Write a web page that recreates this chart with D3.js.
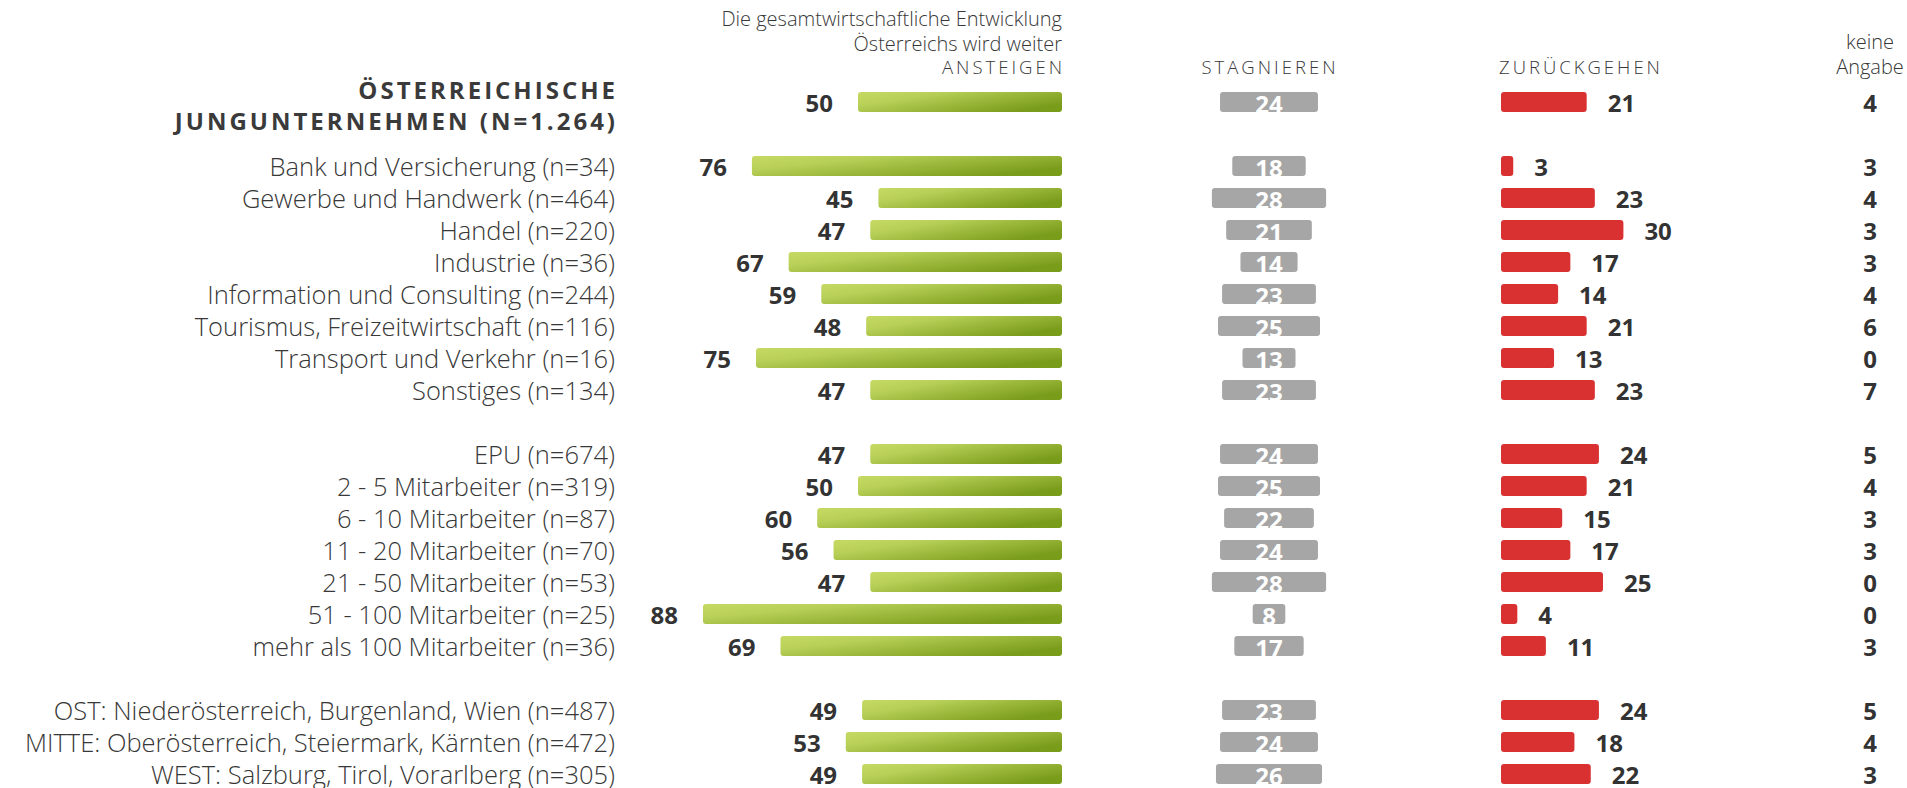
<!DOCTYPE html>
<html>
<head>
<meta charset="utf-8">
<script src="https://cdn.jsdelivr.net/npm/d3@7"></script>
<style>
  body { margin: 0; background: #fff; }
  svg { display: block; font-family: "Open Sans", "Noto Sans", sans-serif; }
  .lbl { font-size: 25.5px; font-weight: 300; fill: #383838; }
  .num { font-size: 24px; font-weight: 700; fill: #333; }
  .num-in { font-size: 24px; font-weight: 700; fill: #fff; }
  .head { font-size: 20px; font-weight: 300; fill: #383838; }
  .head-k { font-size: 20px; font-weight: 300; fill: #383838; }
  .caps { font-size: 18.5px; font-weight: 300; fill: #383838; letter-spacing: 3px; }
  .title { font-size: 24px; font-weight: 700; fill: #3a3a3a; letter-spacing: 3px; }
</style>
</head>
<body>
<div id="chart"></div>
<script>
// Zeilen: "" = Leerzeile zwischen den Gruppen
var categories = [
  "ÖSTERREICHISCHE JUNGUNTERNEHMEN (N=1.264)", "",
  "Bank und Versicherung (n=34)", "Gewerbe und Handwerk (n=464)", "Handel (n=220)",
  "Industrie (n=36)", "Information und Consulting (n=244)",
  "Tourismus, Freizeitwirtschaft (n=116)", "Transport und Verkehr (n=16)",
  "Sonstiges (n=134)", "",
  "EPU (n=674)", "2 - 5 Mitarbeiter (n=319)", "6 - 10 Mitarbeiter (n=87)",
  "11 - 20 Mitarbeiter (n=70)", "21 - 50 Mitarbeiter (n=53)",
  "51 - 100 Mitarbeiter (n=25)", "mehr als 100 Mitarbeiter (n=36)", "",
  "OST: Niederösterreich, Burgenland, Wien (n=487)",
  "MITTE: Oberösterreich, Steiermark, Kärnten (n=472)",
  "WEST: Salzburg, Tirol, Vorarlberg (n=305)"
];
var ansteigen  = [50, null, 76, 45, 47, 67, 59, 48, 75, 47, null, 47, 50, 60, 56, 47, 88, 69, null, 49, 53, 49];
var stagnieren = [24, null, 18, 28, 21, 14, 23, 25, 13, 23, null, 24, 25, 22, 24, 28, 8, 17, null, 23, 24, 26];
var zurueck    = [21, null, 3, 23, 30, 17, 14, 21, 13, 23, null, 24, 21, 15, 17, 25, 4, 11, null, 24, 18, 22];
var keineAngabe = [4, null, 3, 4, 3, 3, 4, 6, 0, 7, null, 5, 4, 3, 3, 0, 0, 3, null, 5, 4, 3];

var titleLines = ["ÖSTERREICHISCHE", "JUNGUNTERNEHMEN (N=1.264)"];
var headAnsteigen = ["Die gesamtwirtschaftliche Entwicklung", "Österreichs wird weiter", "ANSTEIGEN"];
var headStagnieren = "STAGNIEREN";
var headZurueck = "ZURÜCKGEHEN";
var headKeine = ["keine", "Angabe"];

var width = 1907, height = 788;
var labelRight = 615;      // rechter Rand der Beschriftungen
var greenEnd = 1062;       // grüne Balken enden hier
var grayCenter = 1269;     // graue Balken zentriert
var redStart = 1501;       // rote Balken beginnen hier
var keineX = 1870;

var rows = categories.map(function(c, i) { return i; });

var y = d3.scaleBand()
  .domain(rows)
  .range([86, 790])
  .paddingInner(0.375)
  .paddingOuter(0.1875);

var x = d3.scaleLinear().domain([0, 100]).range([0, 408]);

var svg = d3.select('#chart')
  .append('svg')
  .attr('width', width)
  .attr('height', height);

var grad = svg.append('defs').append('linearGradient')
  .attr('id', 'green-grad')
  .attr('x1', 0).attr('y1', 0)
  .attr('x2', 1).attr('y2', 0.6);
grad.append('stop').attr('offset', '0%').attr('stop-color', '#c6da63');
grad.append('stop').attr('offset', '30%').attr('stop-color', '#b8d058');
grad.append('stop').attr('offset', '100%').attr('stop-color', '#7a9c1b');

var data = rows.filter(function(i) { return ansteigen[i] !== null; });
var mid = function(i) { return y(i) + y.bandwidth() / 2; };

// Kopfzeilen
svg.append('g').selectAll('text')
  .data(headAnsteigen)
  .enter().append('text')
  .attr('class', function(d, i) { return i === 2 ? 'caps' : 'head'; })
  .attr('x', function(d, i) { return i === 2 ? greenEnd + 3 : greenEnd; })
  .attr('y', function(d, i) { return [18, 43, 66][i]; })
  .attr('text-anchor', 'end')
  .attr('dominant-baseline', 'central')
  .text(function(d) { return d; });

svg.append('text')
  .attr('class', 'caps')
  .attr('x', grayCenter + 1)
  .attr('y', 66)
  .attr('text-anchor', 'middle')
  .attr('dominant-baseline', 'central')
  .text(headStagnieren);

svg.append('text')
  .attr('class', 'caps')
  .attr('x', redStart - 2)
  .attr('y', 66)
  .attr('dominant-baseline', 'central')
  .text(headZurueck);

svg.append('g').selectAll('text')
  .data(headKeine)
  .enter().append('text')
  .attr('class', 'head-k')
  .attr('x', keineX)
  .attr('y', function(d, i) { return [41, 66][i]; })
  .attr('text-anchor', 'middle')
  .attr('dominant-baseline', 'central')
  .text(function(d) { return d; });

// Titel (Gesamt)
svg.append('g').selectAll('text')
  .data(titleLines)
  .enter().append('text')
  .attr('class', 'title')
  .attr('x', labelRight + 3)
  .attr('y', function(d, i) { return mid(0) - 13 + i * 31; })
  .attr('text-anchor', 'end')
  .attr('dominant-baseline', 'central')
  .text(function(d) { return d; });

// Kategorien
svg.append('g').selectAll('text')
  .data(data.filter(function(i) { return i > 0; }))
  .enter().append('text')
  .attr('class', 'lbl')
  .attr('x', labelRight)
  .attr('y', mid)
  .attr('text-anchor', 'end')
  .attr('dominant-baseline', 'central')
  .text(function(i) { return categories[i]; });

// ansteigen
var g1 = svg.append('g');
g1.selectAll('rect')
  .data(data)
  .enter().append('rect')
  .attr('x', function(i) { return greenEnd - x(ansteigen[i]); })
  .attr('y', function(i) { return y(i); })
  .attr('width', function(i) { return x(ansteigen[i]); })
  .attr('height', y.bandwidth())
  .attr('rx', 3)
  .attr('fill', 'url(#green-grad)');
g1.selectAll('text')
  .data(data)
  .enter().append('text')
  .attr('class', 'num')
  .attr('x', function(i) { return greenEnd - x(ansteigen[i]) - 25; })
  .attr('y', mid)
  .attr('text-anchor', 'end')
  .attr('dominant-baseline', 'central')
  .text(function(i) { return ansteigen[i]; });

// stagnieren
var g2 = svg.append('g');
g2.selectAll('rect')
  .data(data)
  .enter().append('rect')
  .attr('x', function(i) { return grayCenter - x(stagnieren[i]) / 2; })
  .attr('y', function(i) { return y(i); })
  .attr('width', function(i) { return x(stagnieren[i]); })
  .attr('height', y.bandwidth())
  .attr('rx', 3)
  .attr('fill', '#a6a6a6');
g2.selectAll('text')
  .data(data)
  .enter().append('text')
  .attr('class', 'num-in')
  .attr('x', grayCenter)
  .attr('y', function(i) { return mid(i) + 1; })
  .attr('text-anchor', 'middle')
  .attr('dominant-baseline', 'central')
  .text(function(i) { return stagnieren[i]; });

// zurückgehen
var g3 = svg.append('g');
g3.selectAll('rect')
  .data(data)
  .enter().append('rect')
  .attr('x', redStart)
  .attr('y', function(i) { return y(i); })
  .attr('width', function(i) { return x(zurueck[i]); })
  .attr('height', y.bandwidth())
  .attr('rx', 3)
  .attr('fill', '#d93131');
g3.selectAll('text')
  .data(data)
  .enter().append('text')
  .attr('class', 'num')
  .attr('x', function(i) { return redStart + x(zurueck[i]) + 21; })
  .attr('y', mid)
  .attr('dominant-baseline', 'central')
  .text(function(i) { return zurueck[i]; });

// keine Angabe
svg.append('g').selectAll('text')
  .data(data)
  .enter().append('text')
  .attr('class', 'num')
  .attr('x', keineX)
  .attr('y', mid)
  .attr('text-anchor', 'middle')
  .attr('dominant-baseline', 'central')
  .text(function(i) { return keineAngabe[i]; });
</script>
</body>
</html>
